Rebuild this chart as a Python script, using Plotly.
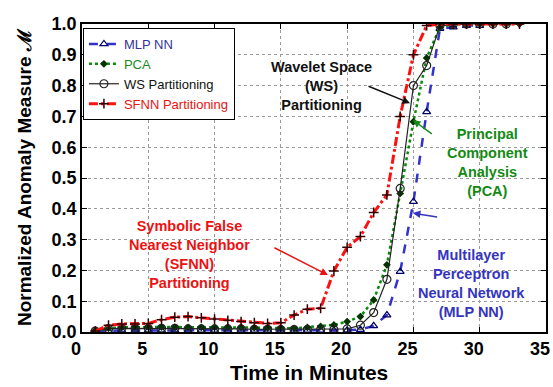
import plotly.graph_objects as go

minutes = list(range(1, 34))

sfnn = [0.003, 0.022, 0.026, 0.026, 0.028, 0.040, 0.048, 0.050, 0.046, 0.042,
        0.038, 0.034, 0.030, 0.028, 0.030, 0.055, 0.074, 0.077, 0.198, 0.275,
        0.310, 0.388, 0.445, 0.700, 0.900, 0.995, 1.000, 1.000, 1.000, 1.000,
        1.000, 1.000, 1.000]
ws = [0.003, 0.010, 0.012, 0.012, 0.012, 0.012, 0.012, 0.010, 0.010, 0.010,
      0.010, 0.010, 0.009, 0.009, 0.008, 0.008, 0.008, 0.008, 0.008, 0.010,
      0.022, 0.063, 0.171, 0.466, 0.800, 0.865, 0.995, 0.998, 1.000, 1.000,
      1.000, 1.000]
pca = [0.005, 0.012, 0.015, 0.016, 0.016, 0.016, 0.016, 0.015, 0.015, 0.015,
       0.015, 0.015, 0.014, 0.013, 0.013, 0.012, 0.015, 0.018, 0.023, 0.034,
       0.050, 0.104, 0.218, 0.450, 0.683, 0.890, 0.990, 1.000, 1.000, 1.000,
       1.000, 1.000, 1.000]
mlp = [0.002, 0.004, 0.005, 0.005, 0.005, 0.005, 0.005, 0.005, 0.005, 0.005,
       0.005, 0.005, 0.005, 0.005, 0.005, 0.005, 0.005, 0.005, 0.005, 0.006,
       0.008, 0.020, 0.055, 0.196, 0.423, 0.715, 0.985, 0.990, 0.995, 0.995]

FONT = "Arial, Liberation Sans, sans-serif"

fig = go.Figure()
fig.add_trace(go.Scatter(x=minutes[:len(mlp)], y=mlp, name="MLP NN", mode="lines+markers",
                         line=dict(color="#3333cc", width=2.5, dash="dash"),
                         marker=dict(symbol="triangle-up-open", size=7, color="#000066",
                                     line=dict(width=1.2))))
fig.add_trace(go.Scatter(x=minutes[:len(pca)], y=pca, name="PCA", mode="lines+markers",
                         line=dict(color="#0a8a0a", width=2.5, dash="dot"),
                         marker=dict(symbol="diamond", size=6, color="#003300")))
fig.add_trace(go.Scatter(x=minutes[:len(ws)], y=ws, name="WS Partitioning", mode="lines+markers",
                         line=dict(color="#222222", width=1.2),
                         marker=dict(symbol="circle-open", size=8, color="#222222",
                                     line=dict(width=1.2))))
fig.add_trace(go.Scatter(x=minutes[:len(sfnn)], y=sfnn, name="SFNN Partitioning", mode="lines+markers",
                         line=dict(color="#ff1010", width=3, dash="dashdot"),
                         marker=dict(symbol="cross-thin-open", size=7, color="#330000",
                                     line=dict(width=1.5, color="#330000"))))

texts = [
    dict(x=18.1, y=0.80, text="<b>Wavelet Space<br>(WS)<br>Partitioning</b>", color="#111111",
         tail=(21.5, 0.80), head=(24.74, 0.743)),
    dict(x=30.55, y=0.549, text="<b>Principal<br>Component<br>Analysis<br>(PCA)</b>", color="#148a14",
         tail=(26.5, 0.64), head=(24.96, 0.688)),
    dict(x=29.4, y=0.159, text="<b>Multilayer<br>Perceptron<br>Neural Network<br>(MLP NN)</b>", color="#3434c0",
         tail=(26.9, 0.373), head=(24.96, 0.386)),
    dict(x=8.14, y=0.253, text="<b>Symbolic False<br>Nearest Neighbor<br>(SFNN)<br>Partitioning</b>", color="#ee1111",
         tail=(14.4, 0.276), head=(18.55, 0.185)),
]
for t in texts:
    fig.add_annotation(x=t["x"], y=t["y"], xref="x", yref="y", text=t["text"], showarrow=False,
                       font=dict(family=FONT, size=14.5, color=t["color"]), align="center")
    fig.add_annotation(x=t["head"][0], y=t["head"][1], ax=t["tail"][0], ay=t["tail"][1],
                       xref="x", yref="y", axref="x", ayref="y", text="", showarrow=True,
                       arrowhead=2, arrowsize=1, arrowwidth=1.5, arrowcolor=t["color"])

# axis titles as annotations
fig.add_annotation(x=0.489, y=-0.13, xref="paper", yref="paper", text="<b>Time in Minutes</b>",
                   showarrow=False, font=dict(family=FONT, size=21, color="black"),
                   xanchor="center", yanchor="middle")
fig.add_annotation(x=-0.125, y=0.503, xref="paper", yref="paper",
                   text="<b>Normalized Anomaly Measure ℳ</b>", textangle=-90,
                   showarrow=False, font=dict(family=FONT, size=19, color="black"),
                   xanchor="center", yanchor="middle")

axis_common = dict(showline=True, linecolor="black", linewidth=1.5, mirror="ticks",
                   ticks="inside", ticklen=5, tickcolor="black",
                   showgrid=True, gridcolor="#9a9a9a", gridwidth=1, griddash="dot",
                   zeroline=False, automargin=False,
                   tickfont=dict(family=FONT, size=18, color="black", weight="bold"))

fig.update_xaxes(range=[0, 35], dtick=5, tick0=0, ticklabelshift=-6, **axis_common)
fig.update_yaxes(range=[0, 1.0], dtick=0.1, tick0=0, tickformat=".1f", **axis_common)

names_col = {"MLP NN": "#333399", "PCA": "#1a8a1a", "WS Partitioning": "#111111",
             "SFNN Partitioning": "#ee1111"}
for tr in fig.data:
    tr.name = f'<span style="color:{names_col[tr.name]}">{tr.name}</span>'

fig.update_layout(
    width=553, height=387,
    margin=dict(l=82, r=7, t=24, b=55, autoexpand=False),
    paper_bgcolor="white", plot_bgcolor="white",
    font=dict(family=FONT),
    legend=dict(x=0.002, y=0.987, xanchor="left", yanchor="top",
                bgcolor="white", bordercolor="black", borderwidth=1,
                font=dict(family=FONT, size=13, color="black"), itemwidth=30, tracegroupgap=0),
    showlegend=True,
)

# remove the browser's default 8px page margin so the figure fills the window exactly
fig.write_html("out.html", config={"displayModeBar": False},
               post_script="document.body.style.margin='0';document.body.style.overflow='hidden';")
